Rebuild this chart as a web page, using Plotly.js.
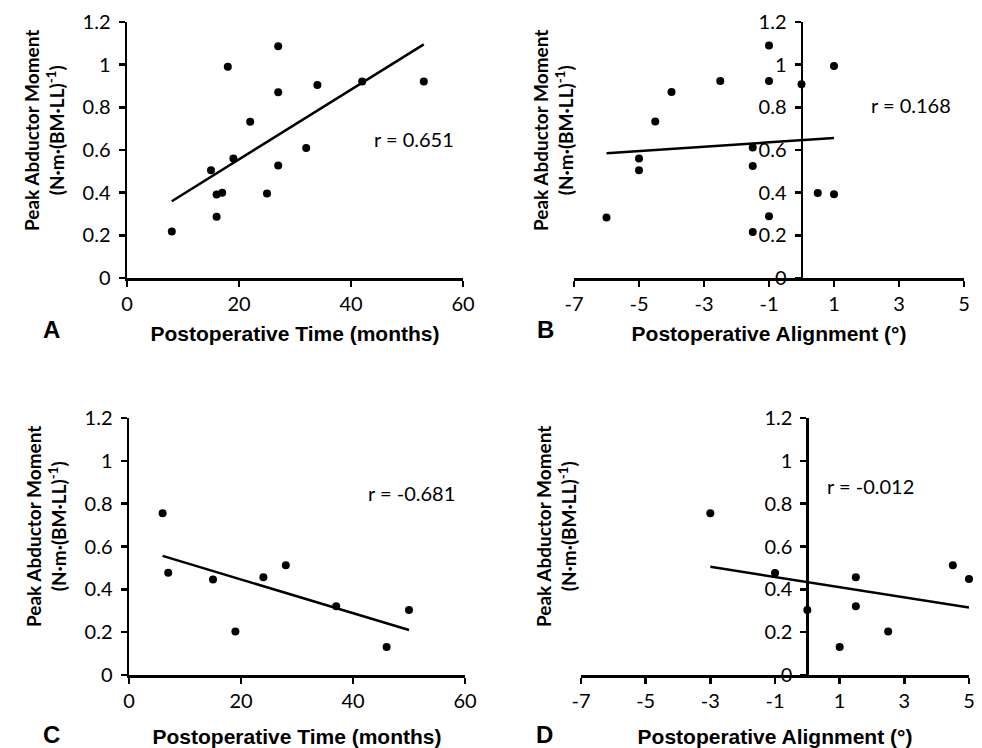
<!DOCTYPE html>
<html><head><meta charset="utf-8">
<script src="https://cdn.plot.ly/plotly-3.0.1.min.js"></script>
<style>html,body{margin:0;padding:0;background:#fff}#chart{width:982px;height:748px}</style>
</head><body><div id="chart"></div>
<script>
// Panel A: postoperative time (months) vs peak abductor moment
const timeA   = [8, 15, 16, 16, 17, 18, 19, 22, 25, 27, 27, 27, 32, 34, 42, 53];
const momentA = [0.218, 0.505, 0.391, 0.287, 0.400, 0.990, 0.560, 0.733, 0.396, 1.086, 0.871, 0.527, 0.609, 0.905, 0.921, 0.921];
const fitTimeA = [8, 53];
const fitMomentA = [0.360, 1.095];
const rA = 'r = 0.651';

// Panel B: postoperative alignment (deg) vs peak abductor moment
const alignB  = [-6, -5, -5, -4.5, -4, -2.5, -1.5, -1.5, -1.5, -1, -1, -1, 0, 0.5, 1, 1];
const momentB = [0.284, 0.560, 0.505, 0.734, 0.872, 0.924, 0.612, 0.525, 0.216, 1.090, 0.924, 0.289, 0.908, 0.398, 0.994, 0.392];
const fitAlignB = [-6, 1];
const fitMomentB = [0.585, 0.656];
const rB = 'r = 0.168';

// Panel C
const timeC   = [6, 7, 15, 19, 24, 28, 37, 46, 50];
const momentC = [0.755, 0.477, 0.446, 0.203, 0.456, 0.512, 0.321, 0.131, 0.304];
const fitTimeC = [6, 50];
const fitMomentC = [0.556, 0.210];
const rC = 'r = -0.681';

// Panel D
const alignD  = [-3, -1, 0, 1, 1.5, 1.5, 2.5, 4.5, 5];
const momentD = [0.755, 0.476, 0.304, 0.131, 0.456, 0.321, 0.203, 0.512, 0.448];
const fitAlignD = [-3, 5];
const fitMomentD = [0.505, 0.315];
const rD = 'r = -0.012';

const timeTicks = [0, 20, 40, 60];
const timeTickText = ['0', '20', '40', '60'];
const alignTicks = [-7, -5, -3, -1, 1, 3, 5];
const alignTickText = ['-7', '-5', '-3', '-1', '1', '3', '5'];
const momentTicks = [0, 0.2, 0.4, 0.6, 0.8, 1, 1.2];
const momentTickText = ['0', '0.2', '0.4', '0.6', '0.8', '1', '1.2'];
const panelLetters = ['A', 'B', 'C', 'D'];
const yTitle = 'Peak Abductor Moment<br>(N·m·(BM·LL)<sup>-1</sup>)';
const xTitleTime = 'Postoperative Time (months)';
const xTitleAlign = 'Postoperative Alignment (°)';

const W = 982, H = 748;
const px = v => v / W;
const py = v => 1 - v / H;

function pts(x, y, xa, ya) {
  return {x, y, xaxis: xa, yaxis: ya, type: 'scatter', mode: 'markers',
    marker: {color: '#000', size: 8}, cliponaxis: false, hoverinfo: 'skip', showlegend: false};
}
function fit(x, y, xa, ya) {
  return {x, y, xaxis: xa, yaxis: ya, type: 'scatter', mode: 'lines',
    line: {color: '#000', width: 2.5}, cliponaxis: false, hoverinfo: 'skip', showlegend: false};
}

const data = [
  fit(fitTimeA, fitMomentA, 'x', 'y'), pts(timeA, momentA, 'x', 'y'),
  fit(fitAlignB, fitMomentB, 'x2', 'y2'), pts(alignB, momentB, 'x2', 'y2'),
  fit(fitTimeC, fitMomentC, 'x3', 'y3'), pts(timeC, momentC, 'x3', 'y3'),
  fit(fitAlignD, fitMomentD, 'x4', 'y4'), pts(alignD, momentD, 'x4', 'y4')
];

const tickFont = {family: 'Lato, sans-serif', size: 20, color: '#000'};
const xTitleFont = {family: '"Liberation Sans", Arial, sans-serif', size: 21, color: '#000', weight: 'bold'};

function axisBase() {
  return {showline: true, linecolor: '#000', linewidth: 2.5, ticks: 'outside', ticklen: 6,
    tickwidth: 2.5, tickcolor: '#000', showgrid: false, zeroline: false, tickfont: tickFont,
    fixedrange: true, automargin: false};
}

const domA = [px(127), px(463)], domB = [px(574), px(964)];
const domC = [px(129), px(465)], domD = [px(581), px(969)];
const domTop = [py(278), py(22)], domBot = [py(675), py(418)];

function yAx(dom, anchor, position) {
  const a = Object.assign(axisBase(), {domain: dom, range: [0, 1.2], tickmode: 'array',
    tickvals: momentTicks, ticktext: momentTickText, ticklabelstandoff: 4});
  if (position !== undefined) { a.anchor = 'free'; a.position = position; } else { a.anchor = anchor; }
  return a;
}
function xAx(dom, range, vals, text, anchor, title, standoff) {
  return Object.assign(axisBase(), {domain: dom, range: range, tickmode: 'array', tickvals: vals,
    ticktext: text, anchor: anchor, title: {text: title, font: xTitleFont, standoff: standoff}});
}
function zeroPos(dom, lo, hi) { return dom[0] + (0 - lo) / (hi - lo) * (dom[1] - dom[0]); }

const layout = {
  width: W, height: H, margin: {l: 0, r: 0, t: 0, b: 0},
  paper_bgcolor: '#fff', plot_bgcolor: 'rgba(0,0,0,0)', showlegend: false, hovermode: false,
  xaxis: xAx(domA, [0, 60], timeTicks, timeTickText, 'y', xTitleTime, 13),
  yaxis: yAx(domTop, 'x'),
  xaxis2: xAx(domB, [-7, 5], alignTicks, alignTickText, 'y2', xTitleAlign, 13),
  yaxis2: yAx(domTop, null, zeroPos(domB, -7, 5)),
  xaxis3: xAx(domC, [0, 60], timeTicks, timeTickText, 'y3', xTitleTime, 20),
  yaxis3: yAx(domBot, 'x3'),
  xaxis4: xAx(domD, [-7, 5], alignTicks, alignTickText, 'y4', xTitleAlign, 20),
  yaxis4: yAx(domBot, null, zeroPos(domD, -7, 5)),
  annotations: []
};

const yTitleFont = {family: 'Lato, sans-serif', size: 19, color: '#000', weight: 'bold'};
const yTitlePos = [[44, 131], [553, 131], [46, 527], [556, 527]];
yTitlePos.forEach(p => layout.annotations.push({text: yTitle, textangle: -90, xref: 'paper', yref: 'paper',
  x: px(p[0]), y: py(p[1]), xanchor: 'center', yanchor: 'middle', showarrow: false, font: yTitleFont}));

const letterPos = [[51, 329], [545, 329], [51, 734], [544, 734]];
letterPos.forEach((p, i) => layout.annotations.push({text: panelLetters[i], xref: 'paper', yref: 'paper',
  x: px(p[0]), y: py(p[1]), xanchor: 'center', yanchor: 'middle', showarrow: false,
  font: {family: '"Liberation Sans", Arial, sans-serif', size: 24, color: '#000', weight: 'bold'}}));

const rFont = {family: 'Lato, sans-serif', size: 20, color: '#000'};
[[rA, 'x', 'y', 0.854, 0.543], [rB, 'x2', 'y2', 0.864, 0.674], [rC, 'x3', 'y3', 0.842, 0.708], [rD, 'x4', 'y4', 0.745, 0.735]]
  .forEach(r => layout.annotations.push({text: r[0], xref: r[1] + ' domain', yref: r[2] + ' domain',
    x: r[3], y: r[4], xanchor: 'center', yanchor: 'middle', showarrow: false, font: rFont}));

Plotly.newPlot('chart', data, layout, {staticPlot: true, displayModeBar: false});
</script>
</body></html>
